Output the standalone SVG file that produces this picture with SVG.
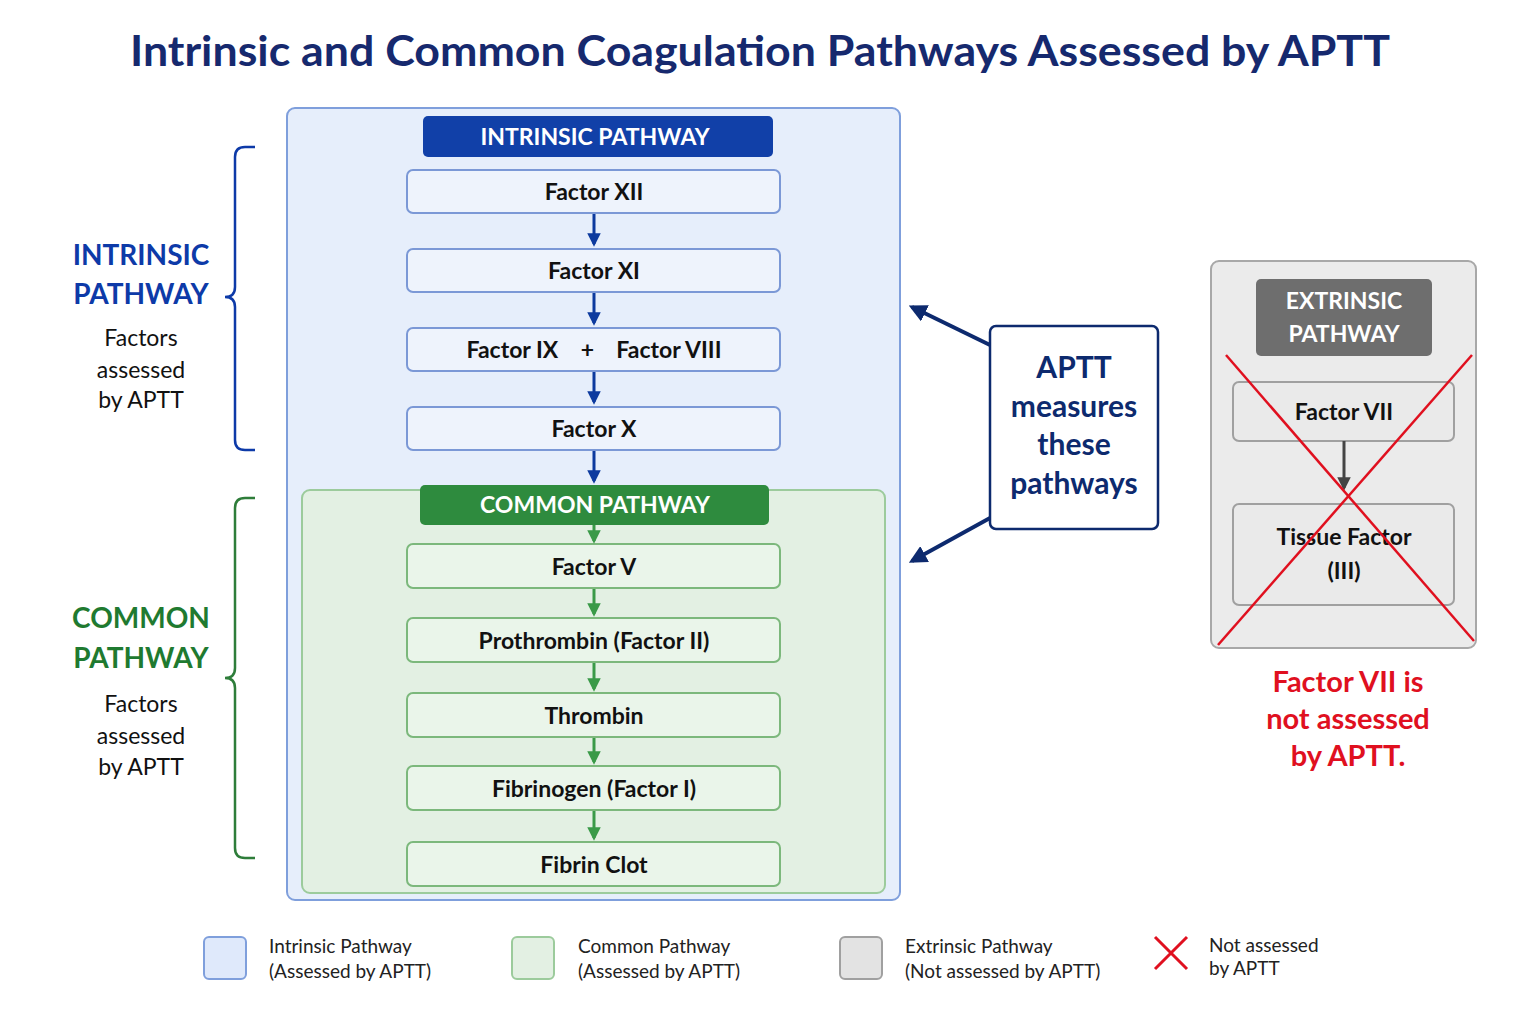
<svg xmlns="http://www.w3.org/2000/svg" width="1536" height="1024" viewBox="0 0 1536 1024">
<defs>
<style>
text{font-family:Lato,"Open Sans","Liberation Sans",sans-serif;text-anchor:middle}
.t{font-size:42px;font-weight:bold;fill:#16296e}
.hd{font-size:23px;font-weight:bold;fill:#fff}
.bn{fill:#eef3fc;stroke:#7b98d6;stroke-width:2}
.gn{fill:#eaf5ea;stroke:#7cb87c;stroke-width:2}
.nt{font-size:23px;font-weight:bold;fill:#111}
.side{font-size:28px;font-weight:bold}
.sub{font-size:23px;fill:#111}
.ap{font-size:30px;font-weight:bold;fill:#0d2a6e}
.red{font-size:29px;font-weight:bold;fill:#e0101f}
.lg{font-size:19px;fill:#222;text-anchor:start}
.ba{stroke:#0d3a9e;stroke-width:3;fill:none}
.ga{stroke:#3a9a48;stroke-width:3;fill:none}
</style>
<marker id="mb" viewBox="0 0 10 10" refX="8" refY="5" markerWidth="4.5" markerHeight="4.5" orient="auto"><path d="M0,0L10,5L0,10z" fill="#0d3a9e"/></marker>
<marker id="mg" viewBox="0 0 10 10" refX="8" refY="5" markerWidth="4.5" markerHeight="4.5" orient="auto"><path d="M0,0L10,5L0,10z" fill="#3a9a48"/></marker>
<marker id="mk" viewBox="0 0 10 10" refX="8" refY="5" markerWidth="4.5" markerHeight="4.5" orient="auto"><path d="M0,0L10,5L0,10z" fill="#444"/></marker>
<marker id="mn" viewBox="0 0 10 10" refX="8" refY="5" markerWidth="4.5" markerHeight="4.5" orient="auto"><path d="M0,0L10,5L0,10z" fill="#0d2a6e"/></marker>
</defs>
<rect width="1536" height="1024" fill="#fff"/>
<text class="t" x="760" y="66" textLength="1260" lengthAdjust="spacingAndGlyphs">Intrinsic and Common Coagulation Pathways Assessed by APTT</text>

<g id="intrinsic-box"><rect x="287" y="108" width="613" height="792" rx="8" fill="#e6eefb" stroke="#7f9fdc" stroke-width="2"/></g>
<g id="intrinsic-header"><rect x="423" y="116" width="350" height="41" rx="5" fill="#1140a8"/><text class="hd" x="595" y="145">INTRINSIC PATHWAY</text></g>
<g id="f12"><rect class="bn" x="407" y="170" width="373" height="43" rx="6"/><text class="nt" x="594" y="200">Factor XII</text></g>
<g id="f11"><rect class="bn" x="407" y="249" width="373" height="43" rx="6"/><text class="nt" x="594" y="279">Factor XI</text></g>
<g id="f9"><rect class="bn" x="407" y="328" width="373" height="43" rx="6"/><text class="nt" x="594" y="358" xml:space="preserve">Factor IX    +    Factor VIII</text></g>
<g id="f10"><rect class="bn" x="407" y="407" width="373" height="43" rx="6"/><text class="nt" x="594" y="437">Factor X</text></g>

<g id="common-box"><rect x="302" y="490" width="583" height="403" rx="8" fill="#e3f0e3" stroke="#9ccb9c" stroke-width="2"/></g>
<g id="common-header"><rect x="420" y="485" width="349" height="40" rx="5" fill="#2e8b3e"/><text class="hd" x="595" y="513">COMMON PATHWAY</text></g>
<g id="f5"><rect class="gn" x="407" y="544" width="373" height="44" rx="6"/><text class="nt" x="594" y="575">Factor V</text></g>
<g id="f2"><rect class="gn" x="407" y="618" width="373" height="44" rx="6"/><text class="nt" x="594" y="649">Prothrombin (Factor II)</text></g>
<g id="thrombin"><rect class="gn" x="407" y="693" width="373" height="44" rx="6"/><text class="nt" x="594" y="724">Thrombin</text></g>
<g id="f1"><rect class="gn" x="407" y="766" width="373" height="44" rx="6"/><text class="nt" x="594" y="797">Fibrinogen (Factor I)</text></g>
<g id="clot"><rect class="gn" x="407" y="842" width="373" height="44" rx="6"/><text class="nt" x="594" y="873">Fibrin Clot</text></g>

<g id="labels">
<path d="M255,147 H245 Q235,147 235,157 V287 Q235,297 225,297 Q235,297 235,307 V440 Q235,450 245,450 H255" fill="none" stroke="#0d3aa8" stroke-width="2.5"/>
<text class="side" x="141" y="265" fill="#0d3aa8">INTRINSIC</text>
<text class="side" x="141" y="304" fill="#0d3aa8">PATHWAY</text>
<text class="sub" x="141" y="346">Factors</text><text class="sub" x="141" y="378">assessed</text><text class="sub" x="141" y="408">by APTT</text>
<path d="M255,498 H245 Q235,498 235,508 V668 Q235,678 225,678 Q235,678 235,688 V848 Q235,858 245,858 H255" fill="none" stroke="#2e7d3a" stroke-width="2.5"/>
<text class="side" x="141" y="628" fill="#1f7a30">COMMON</text>
<text class="side" x="141" y="668" fill="#1f7a30">PATHWAY</text>
<text class="sub" x="141" y="712">Factors</text><text class="sub" x="141" y="744">assessed</text><text class="sub" x="141" y="775">by APTT</text>
</g>

<g id="aptt"><rect x="990" y="326" width="168" height="203" rx="6" fill="#fff" stroke="#0d2a6e" stroke-width="2.5"/>
<text class="ap" x="1074" y="378">APTT</text><text class="ap" x="1074" y="417">measures</text><text class="ap" x="1074" y="455">these</text><text class="ap" x="1074" y="494">pathways</text></g>

<g id="extrinsic">
<rect x="1211" y="261" width="265" height="387" rx="8" fill="#ebebeb" stroke="#a8a8a8" stroke-width="2"/>
<rect x="1256" y="279" width="176" height="77" rx="5" fill="#6e6e6e"/>
<text class="hd" x="1344" y="309">EXTRINSIC</text><text class="hd" x="1344" y="342">PATHWAY</text>
<rect x="1233" y="382" width="221" height="59" rx="6" fill="#eaeaea" stroke="#a0a0a0" stroke-width="2"/>
<text class="nt" x="1344" y="420">Factor VII</text>
<rect x="1233" y="504" width="221" height="101" rx="6" fill="#eaeaea" stroke="#a0a0a0" stroke-width="2"/>
<text class="nt" x="1344" y="545">Tissue Factor</text><text class="nt" x="1344" y="579">(III)</text>
<line x1="1344" y1="441" x2="1344" y2="488" stroke="#444" stroke-width="3" marker-end="url(#mk)"/>
<line x1="1226" y1="355" x2="1474" y2="641" stroke="#e0101f" stroke-width="2.5"/>
<line x1="1472" y1="355" x2="1218" y2="645" stroke="#e0101f" stroke-width="2.5"/>
<text class="red" x="1348" y="692">Factor VII is</text><text class="red" x="1348" y="729">not assessed</text><text class="red" x="1348" y="766">by APTT.</text>
</g>

<g id="connectors">
<line class="ba" x1="594" y1="214" x2="594" y2="244" marker-end="url(#mb)"/>
<line class="ba" x1="594" y1="293" x2="594" y2="323" marker-end="url(#mb)"/>
<line class="ba" x1="594" y1="372" x2="594" y2="402" marker-end="url(#mb)"/>
<line class="ba" x1="594" y1="451" x2="594" y2="481" marker-end="url(#mb)"/>
<line class="ga" x1="594" y1="525" x2="594" y2="541" marker-end="url(#mg)"/>
<line class="ga" x1="594" y1="589" x2="594" y2="614" marker-end="url(#mg)"/>
<line class="ga" x1="594" y1="663" x2="594" y2="689" marker-end="url(#mg)"/>
<line class="ga" x1="594" y1="738" x2="594" y2="762" marker-end="url(#mg)"/>
<line class="ga" x1="594" y1="811" x2="594" y2="838" marker-end="url(#mg)"/>
<line x1="990" y1="345" x2="912" y2="307" stroke="#0d2a6e" stroke-width="4" marker-end="url(#mn)"/>
<line x1="990" y1="518" x2="912" y2="561" stroke="#0d2a6e" stroke-width="4" marker-end="url(#mn)"/>
</g>

<g id="legend">
<rect x="204" y="937" width="42" height="42" rx="5" fill="#dfe9fb" stroke="#7f9fdc" stroke-width="2"/>
<text class="lg" x="269" y="953">Intrinsic Pathway</text><text class="lg" x="269" y="978">(Assessed by APTT)</text>
<rect x="512" y="937" width="42" height="42" rx="5" fill="#e3f0e3" stroke="#9ccb9c" stroke-width="2"/>
<text class="lg" x="578" y="953">Common Pathway</text><text class="lg" x="578" y="978">(Assessed by APTT)</text>
<rect x="840" y="937" width="42" height="42" rx="5" fill="#e3e3e3" stroke="#a0a0a0" stroke-width="2"/>
<text class="lg" x="905" y="953">Extrinsic Pathway</text><text class="lg" x="905" y="978">(Not assessed by APTT)</text>
<path d="M1155,937 L1187,969 M1187,937 L1155,969" stroke="#e0101f" stroke-width="3"/>
<text class="lg" x="1209" y="952">Not assessed</text><text class="lg" x="1209" y="975">by APTT</text>
</g>
</svg>
